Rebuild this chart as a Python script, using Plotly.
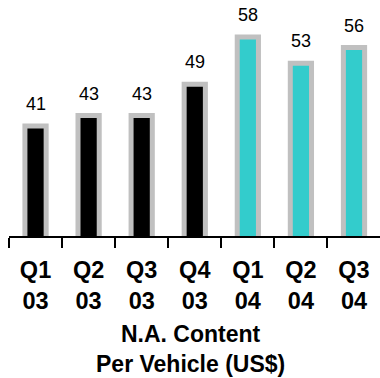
import plotly.graph_objects as go

categories = ["Q1<br>03", "Q2<br>03", "Q3<br>03", "Q4<br>03", "Q1<br>04", "Q2<br>04", "Q3<br>04"]
values = [41, 43, 43, 49, 58, 53, 56]
bar_colors = ["#000000", "#000000", "#000000", "#000000", "#33CCCC", "#33CCCC", "#33CCCC"]
axis_title = "N.A. Content<br>Per Vehicle (US$)"

W, H = 380, 378
ml, mr, mt, mb = 9, 0, 0, 142
plot_h = H - mt - mb
y0 = 20
px_per_unit = 5.235
y1 = y0 + plot_h / px_per_unit

fig = go.Figure()
fig.add_trace(go.Bar(
    x=categories, y=values,
    marker=dict(color=bar_colors, line=dict(color="#C0C0C0", width=5)),
    width=0.4,
    hoverinfo="skip",
))

for c, v in zip(categories, values):
    fig.add_annotation(
        x=c, y=v, xref="x", yref="y",
        text=str(v), showarrow=False,
        yanchor="bottom", yshift=10,
        font=dict(family="Arial", size=18, color="#000000"),
    )

fig.add_annotation(
    x=(190 - ml) / (W - ml - mr), y=(plot_h - 349) / plot_h,
    xref="paper", yref="paper",
    text=axis_title, showarrow=False,
    xanchor="center", yanchor="middle", borderpad=0,
    font=dict(family="Arial", size=23, color="#000000", weight="bold"),
)

fig.update_layout(
    width=W, height=H,
    margin=dict(l=ml, r=mr, t=mt, b=mb, pad=0),
    paper_bgcolor="white", plot_bgcolor="white",
    showlegend=False,
    bargap=0.6,
    xaxis=dict(
        type="category",
        showline=True, linecolor="#000000", linewidth=2,
        ticks="outside", tickson="boundaries", ticklen=10, tickwidth=2, tickcolor="#000000",
        tickfont=dict(family="Arial", size=23.5, color="#000000", weight="bold"),
        ticklabelstandoff=12,
        showgrid=False, zeroline=False,
        range=[-0.5, 6.49],
    ),
    yaxis=dict(
        range=[y0, y1], visible=False, showgrid=False, zeroline=False,
    ),
)

fig.write_html("out.html")
